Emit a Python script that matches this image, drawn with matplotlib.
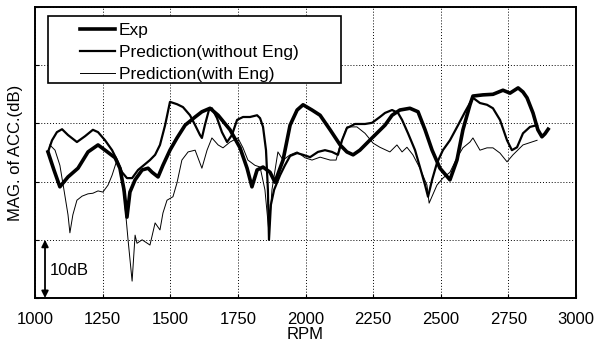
import numpy as np
import matplotlib
matplotlib.use("Agg")
import matplotlib.pyplot as plt
from matplotlib.patches import Rectangle

plt.rcParams["font.family"] = ["Liberation Sans", "DejaVu Sans"]

# Exp
exp_rpm = [1048, 1070, 1092, 1122, 1159, 1196, 1233, 1259, 1296, 1314, 1329, 1340,
           1351, 1370, 1396, 1418, 1433, 1455, 1473, 1499, 1525, 1555, 1592, 1617,
           1647, 1677, 1721, 1758, 1784, 1802, 1821, 1843, 1869, 1887, 1917, 1943,
           1969, 1991, 2024, 2054, 2091, 2128, 2153, 2176, 2201, 2246, 2294, 2320,
           2349, 2386, 2416, 2442, 2468, 2497, 2534, 2560, 2582, 2608, 2619, 2656,
           2693, 2730, 2756, 2786, 2804, 2819, 2841, 2859, 2874, 2885, 2897]
exp_db = [25.1, 22.0, 19.1, 20.8, 22.3, 25.1, 26.3, 25.4, 24.1, 22.3, 18.6, 13.9,
          18.2, 20.3, 22.0, 22.3, 21.6, 20.8, 22.8, 25.4, 27.5, 29.7, 31.1, 32.0,
          32.6, 31.4, 28.9, 25.8, 22.3, 19.1, 22.0, 22.5, 21.6, 19.9, 23.7, 29.7,
          32.3, 33.2, 32.3, 31.4, 28.9, 26.3, 25.1, 24.6, 25.4, 27.5, 29.7, 31.4,
          32.3, 32.6, 32.0, 28.9, 25.4, 22.3, 20.3, 23.7, 28.9, 33.2, 34.7, 34.9,
          35.0, 35.7, 35.2, 36.1, 35.4, 34.4, 31.8, 28.9, 27.7, 28.2, 29.0]

# Prediction (without Eng)
woe_rpm = [1048, 1063, 1081, 1100, 1122, 1155, 1185, 1214, 1233, 1259, 1285, 1303,
           1322, 1340, 1359, 1381, 1407, 1425, 1444, 1462, 1481, 1499, 1525, 1547,
           1573, 1592, 1610, 1617, 1628, 1643, 1654, 1673, 1691, 1710, 1728, 1747,
           1769, 1795, 1821, 1832, 1843, 1854, 1861, 1865, 1872, 1884, 1906, 1924,
           1943, 1969, 1991, 2017, 2046, 2072, 2098, 2120, 2135, 2153, 2183, 2220,
           2246, 2275, 2294, 2320, 2342, 2357, 2379, 2405, 2423, 2442, 2453, 2468,
           2486, 2508, 2534, 2564, 2590, 2619, 2645, 2671, 2693, 2719, 2745, 2763,
           2782, 2804, 2830, 2856]
woe_db = [25.1, 27.1, 28.5, 29.0, 28.0, 26.8, 27.8, 28.9, 28.5, 27.1, 25.4, 23.7,
          21.6, 20.6, 20.6, 22.0, 23.0, 23.7, 24.6, 26.3, 29.7, 33.7, 33.3, 32.8,
          31.4, 29.7, 28.0, 27.5, 29.7, 32.3, 32.6, 30.9, 28.5, 26.8, 28.0, 30.6,
          31.1, 31.1, 31.4, 30.9, 29.4, 25.4, 18.6, 10.0, 16.0, 18.6, 21.1, 22.8,
          24.4, 24.9, 24.6, 24.2, 25.1, 25.4, 25.1, 24.6, 27.1, 29.2, 29.9, 29.9,
          30.1, 31.1, 31.8, 32.3, 31.8, 30.6, 28.3, 25.4, 22.5, 19.4, 17.4, 20.3,
          23.2, 25.4, 27.1, 29.7, 32.0, 34.4, 33.5, 33.2, 32.6, 30.6, 27.1, 25.4,
          25.9, 28.3, 29.4, 29.7]

# Prediction (with Eng)
we_rpm = [1055, 1074, 1092, 1107, 1122, 1129, 1140, 1155, 1174, 1196, 1214, 1233,
          1251, 1270, 1285, 1303, 1314, 1329, 1344, 1359, 1370, 1377, 1396, 1425,
          1444, 1462, 1473, 1488, 1510, 1525, 1543, 1566, 1592, 1617, 1636, 1654,
          1677, 1695, 1721, 1750, 1769, 1787, 1813, 1832, 1850, 1865, 1876, 1898,
          1917, 1943, 1969, 1998, 2024, 2054, 2091, 2113, 2128, 2153, 2190, 2220,
          2250, 2275, 2312, 2338, 2357, 2375, 2397, 2423, 2449, 2457, 2486, 2508,
          2534, 2560, 2582, 2608, 2619, 2645, 2671, 2693, 2719, 2745, 2767, 2804,
          2856]
we_db = [26.3, 25.4, 22.8, 18.6, 14.3, 11.2, 14.3, 16.8, 17.5, 17.9, 18.0, 18.4,
         18.2, 19.4, 21.1, 23.7, 22.0, 17.7, 10.0, 2.9, 10.8, 9.4, 10.0, 9.1,
         12.9, 11.7, 14.6, 16.8, 17.4, 19.8, 23.7, 25.1, 25.4, 22.3, 25.4, 27.5,
         26.3, 25.8, 26.8, 27.5, 25.8, 23.7, 22.8, 22.5, 18.6, 11.2, 18.6, 25.1,
         23.7, 24.6, 25.1, 24.1, 23.7, 24.2, 23.7, 23.7, 26.3, 29.4, 29.4, 28.3,
         26.6, 25.9, 25.1, 26.3, 25.1, 25.9, 24.6, 22.3, 19.4, 16.3, 19.4, 20.6,
         21.6, 24.1, 25.8, 26.8, 27.5, 25.4, 25.8, 25.8, 24.9, 23.4, 24.6, 26.3,
         27.1]

x_ticks = [1000, 1250, 1500, 1750, 2000, 2250, 2500, 2750, 3000]
y_grid = [0, 10, 20, 30, 40, 50]

fig = plt.figure(figsize=(5.96, 3.42), dpi=100)
ax = fig.add_axes([35 / 596, 1 - 298 / 342, 541 / 596, 291 / 342])

ax.plot(exp_rpm, exp_db, color="black", lw=2.6, label="Exp", solid_joinstyle="round")
ax.plot(woe_rpm, woe_db, color="black", lw=1.6, label="Prediction(without Eng)")
ax.plot(we_rpm, we_db, color="black", lw=0.7, label="Prediction(with Eng)")

ax.set_xlim(1000, 3000)
ax.set_ylim(0, 50)
ax.set_xticks(x_ticks)
ax.set_yticks(y_grid)
ax.set_yticklabels([])
ax.tick_params(axis="x", direction="in", length=3, pad=10, labelsize=12)
ax.tick_params(axis="y", direction="in", length=3)
ax.grid(True, color="black", lw=0.7, linestyle=(0, (1, 2)))
for s in ax.spines.values():
    s.set_linewidth(1.4)

ax.set_xlabel("RPM", fontsize=12, labelpad=0)
ax.set_ylabel("MAG. of ACC.(dB)", fontsize=12, labelpad=5)

# 10dB scale arrow
ax.annotate("", xy=(1037, 0), xytext=(1037, 10),
            arrowprops=dict(arrowstyle="<|-|>", color="black", lw=1.3,
                            mutation_scale=10, shrinkA=0, shrinkB=0))
ax.text(1054, 4.8, "10dB", fontsize=12, va="center", ha="left")

# legend box
ax.add_patch(Rectangle((0.024, 0.739), 0.5416, 0.230, transform=ax.transAxes,
                       facecolor="white", edgecolor="black", lw=1.2, zorder=5))
leg = ax.legend(loc="upper left", bbox_to_anchor=(0.083, 0.945), frameon=False,
                fontsize=12.5, handlelength=2.0, handletextpad=0.25,
                labelspacing=0.38, borderpad=0, borderaxespad=0)
leg.set_zorder(6)

fig.savefig("out.png", dpi=100)
